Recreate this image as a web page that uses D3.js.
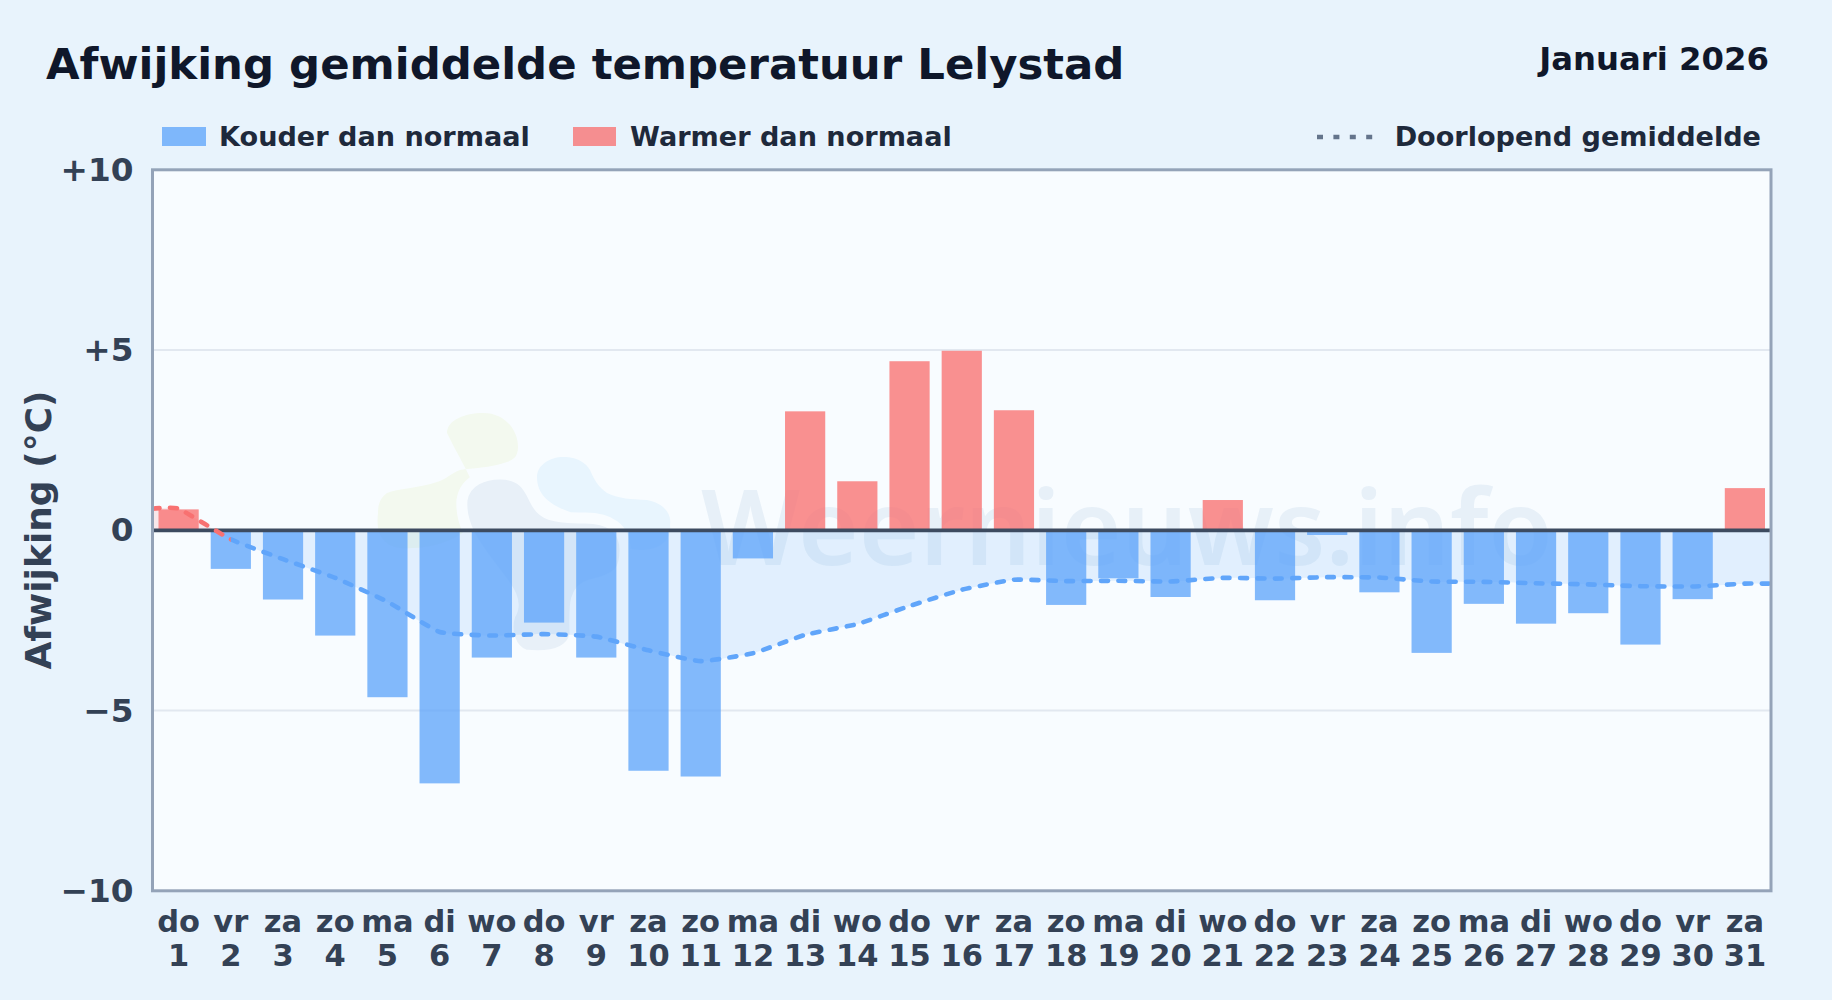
<!DOCTYPE html>
<html lang="nl">
<head>
    <meta charset="UTF-8">
    <title>Afwijking gemiddelde temperatuur Lelystad</title>
    <style>
        html, body { margin: 0; padding: 0; background: #e8f3fc; }
        svg { display: block; }
        text { font-family: 'DejaVu Sans', sans-serif; font-weight: 700; }
    </style>
</head>
<body>
    <svg id="chart" width="1832" height="1000"></svg>

    <script src="https://cdnjs.cloudflare.com/ajax/libs/d3/7.8.5/d3.min.js"></script>
    <script>
        // Gegevens
        const weekdays = ["do","vr","za","zo","ma","di","wo","do","vr","za","zo","ma","di","wo","do","vr","za","zo","ma","di","wo","do","vr","za","zo","ma","di","wo","do","vr","za"];
        const days = ["1","2","3","4","5","6","7","8","9","10","11","12","13","14","15","16","17","18","19","20","21","22","23","24","25","26","27","28","29","30","31"];
        const deviation = [0.58,-1.07,-1.92,-2.92,-4.63,-7.02,-3.53,-2.56,-3.53,-6.67,-6.83,-0.78,3.3,1.36,4.69,4.98,3.33,-2.07,-1.33,-1.85,0.84,-1.94,-0.13,-1.72,-3.4,-2.04,-2.59,-2.3,-3.17,-1.91,1.17];
        const runningMean = [0.6,-0.25,-0.8,-1.32,-1.98,-2.82,-2.92,-2.88,-2.95,-3.33,-3.63,-3.41,-2.9,-2.6,-2.1,-1.65,-1.37,-1.41,-1.4,-1.42,-1.32,-1.34,-1.3,-1.31,-1.42,-1.43,-1.47,-1.5,-1.55,-1.56,-1.48];
        const yTicks = [10, 5, 0, -5, -10];
        const yTickLabels = ["+10", "+5", "0", "−5", "−10"];

        const plot = { left: 152.5, right: 1771, top: 169.8, bottom: 890.8 };
        const svg = d3.select("#chart");

        const x = d3.scaleBand().domain(days).range([plot.left, plot.right]).paddingInner(0.23).paddingOuter(0.115);
        const y = d3.scaleLinear().domain([-10, 10]).range([plot.bottom, plot.top]);
        const cx = d => x(d) + x.bandwidth() / 2;

        // Achtergrond
        svg.append("rect").attr("width", 1832).attr("height", 1000).attr("fill", "#e8f3fc");
        svg.append("rect")
            .attr("x", plot.left).attr("y", plot.top)
            .attr("width", plot.right - plot.left).attr("height", plot.bottom - plot.top)
            .attr("fill", "#f8fcff");

        // Clips
        const defs = svg.append("defs");
        defs.append("clipPath").attr("id", "above").append("rect")
            .attr("x", plot.left).attr("y", plot.top).attr("width", plot.right - plot.left).attr("height", y(0) - plot.top);
        defs.append("clipPath").attr("id", "below").append("rect")
            .attr("x", plot.left).attr("y", y(0)).attr("width", plot.right - plot.left).attr("height", plot.bottom - y(0));
        defs.append("clipPath").attr("id", "firstSeg").append("rect")
            .attr("x", plot.left).attr("y", plot.top).attr("width", cx("2") - plot.left).attr("height", plot.bottom - plot.top);
        defs.append("clipPath").attr("id", "restSeg").append("rect")
            .attr("x", cx("2")).attr("y", plot.top).attr("width", plot.right - cx("2")).attr("height", plot.bottom - plot.top);

        // Watermerk
        const wm = svg.append("g");
        wm.append("path").attr("fill", "#f3f9ef")
            .attr("d", "M447 433C447 420 465 413 483 413C505 413 518 430 518 447C518 458 512 460 507 462C490 468 472 468 460 470C450 474 445 480 437 482C420 488 400 488 387 493C380 498 378 505 378 513C376 530 380 545 400 548C430 550 470 540 480 510C480 490 460 460 447 433Z");
        wm.append("path").attr("fill", "#e8f5fe")
            .attr("d", "M537 477C537 465 550 457 563 457C580 457 587 465 590 470C595 482 600 488 607 493C620 499 630 499 647 500C662 503 672 512 670 525C672 540 660 550 640 550C620 550 590 530 570 512C550 505 537 495 537 477Z");
        wm.append("path").attr("fill", "#e8f0f8")
            .attr("stroke", "#f8fcff").attr("stroke-width", 11)
            .attr("d", "M462 500C465 480 485 474 500 474C525 474 530 490 535 500C542 515 552 518 585 518C610 518 625 528 625 550C625 570 620 578 590 585C572 590 575 610 575 635C570 655 545 657 525 655C510 650 505 630 510 615C520 600 505 585 490 565C475 545 460 525 462 500Z");
        wm.append("text")
            .attr("x", 701).attr("y", 565)
            .attr("font-size", 104)
            .style("font-family", "'Noto Sans', sans-serif")
            .style("font-weight", 600)
            .attr("fill", "#3f78b0").attr("fill-opacity", 0.09)
            .text("Weernieuws.info");

        // Rasterlijnen
        svg.append("g").selectAll("line").data([5, -5]).join("line")
            .attr("x1", plot.left).attr("x2", plot.right)
            .attr("y1", d => y(d)).attr("y2", d => y(d))
            .attr("stroke", "#e2e8f0").attr("stroke-width", 2);

        // Lopend gemiddelde: vlak en lijn lopen door tot de randen van het plotvlak
        const linePts = [[plot.left, runningMean[0]]]
            .concat(days.map((d, i) => [cx(d), runningMean[i]]))
            .concat([[plot.right - 2, runningMean[runningMean.length - 1]]]);
        const curve = d3.curveCardinal.tension(0.6);
        const area = d3.area().x(d => d[0]).y0(y(0)).y1(d => y(d[1])).curve(curve);
        const line = d3.line().x(d => d[0]).y(d => y(d[1])).curve(curve);

        svg.append("path").attr("d", area(linePts)).attr("fill", "#60a5fa").attr("fill-opacity", 0.15).attr("clip-path", "url(#below)");
        svg.append("path").attr("d", area(linePts)).attr("fill", "#f87171").attr("fill-opacity", 0.15).attr("clip-path", "url(#above)");

        // Staven
        svg.append("g").selectAll("rect").data(days).join("rect")
            .attr("x", d => x(d))
            .attr("width", x.bandwidth())
            .attr("y", (d, i) => y(Math.max(0, deviation[i])))
            .attr("height", (d, i) => Math.abs(y(deviation[i]) - y(0)))
            .attr("fill", (d, i) => deviation[i] < 0 ? "#60a5fa" : "#f87171")
            .attr("fill-opacity", 0.78);

        // Nullijn
        svg.append("line")
            .attr("x1", plot.left).attr("x2", plot.right)
            .attr("y1", y(0)).attr("y2", y(0))
            .attr("stroke", "#3d4b60").attr("stroke-width", 3.8);

        const addMeanLine = (color, clip) => svg.append("path")
            .attr("d", line(linePts))
            .attr("fill", "none")
            .attr("stroke", color)
            .attr("stroke-width", 4.6)
            .attr("stroke-linecap", "round")
            .attr("stroke-dasharray", "7 10.4")
            .attr("clip-path", clip);
        addMeanLine("#f87171", "url(#firstSeg)");
        addMeanLine("#60a5fa", "url(#restSeg)");

        // Kader
        svg.append("rect")
            .attr("x", plot.left).attr("y", plot.top)
            .attr("width", plot.right - plot.left).attr("height", plot.bottom - plot.top)
            .attr("fill", "none").attr("stroke", "#94a3b8").attr("stroke-width", 3);

        // Assen
        const yAxis = svg.append("g")
            .attr("transform", `translate(${plot.left},0)`)
            .call(d3.axisLeft(y).tickValues(yTicks).tickSize(0).tickPadding(19).tickFormat((d, i) => yTickLabels[i]));
        yAxis.select(".domain").remove();
        yAxis.selectAll("text")
            .attr("font-size", 32.7).attr("fill", "#334155")
            .style("font-family", "'DejaVu Sans', sans-serif").style("font-weight", 700);

        const xAxis = svg.append("g")
            .attr("transform", `translate(0,${plot.bottom})`)
            .call(d3.axisBottom(x).tickSize(0).tickFormat(""));
        xAxis.select(".domain").remove();
        xAxis.selectAll(".tick text").each(function (d, i) {
            const t = d3.select(this)
                .attr("font-size", 30.5).attr("fill", "#334155")
                .style("font-family", "'DejaVu Sans', sans-serif").style("font-weight", 700)
                .attr("y", 0).attr("dy", 0);
            t.append("tspan").attr("x", 0).attr("y", 41).text(weekdays[i]);
            t.append("tspan").attr("x", 0).attr("y", 75).text(days[i]);
        });

        svg.append("text")
            .attr("transform", "translate(51,530) rotate(-90)")
            .attr("text-anchor", "middle")
            .attr("font-size", 36).attr("fill", "#334155")
            .text("Afwijking (°C)");

        // Titels
        svg.append("text").attr("x", 46).attr("y", 79)
            .attr("font-size", 43.4).attr("fill", "#0f172a")
            .text("Afwijking gemiddelde temperatuur Lelystad");
        svg.append("text").attr("x", 1769).attr("y", 70)
            .attr("text-anchor", "end")
            .attr("font-size", 32.3).attr("fill", "#0f172a")
            .text("Januari 2026");

        // Legenda
        const legend = svg.append("g").attr("font-size", 27.1).attr("fill", "#1e293b");
        legend.append("rect").attr("x", 162).attr("y", 127).attr("width", 44).attr("height", 19).attr("fill", "#60a5fa").attr("fill-opacity", 0.78);
        legend.append("text").attr("x", 219).attr("y", 146).text("Kouder dan normaal");
        legend.append("rect").attr("x", 573).attr("y", 127).attr("width", 43).attr("height", 19).attr("fill", "#f87171").attr("fill-opacity", 0.78);
        legend.append("text").attr("x", 630).attr("y", 146).text("Warmer dan normaal");
        legend.append("line").attr("x1", 1317).attr("x2", 1374).attr("y1", 137).attr("y2", 137)
            .attr("stroke", "#64748b").attr("stroke-width", 4.4).attr("stroke-dasharray", "6 10.4");
        legend.append("text").attr("x", 1761).attr("y", 146).attr("text-anchor", "end").text("Doorlopend gemiddelde");
    </script>
</body>
</html>
